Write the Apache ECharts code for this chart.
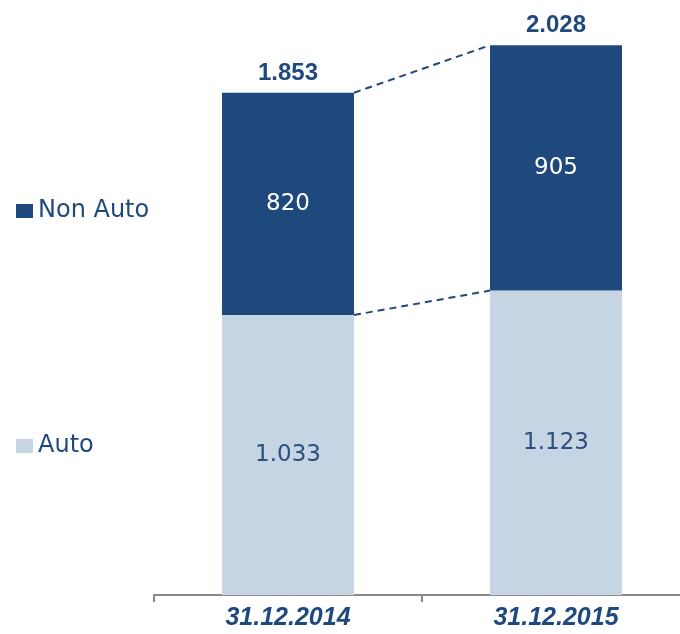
<!DOCTYPE html>
<html>
<head>
<meta charset="utf-8">
<style>
  html, body { margin: 0; padding: 0; background: #fff; }
  #main { width: 680px; height: 634px; }
</style>
<script src="https://cdn.jsdelivr.net/npm/echarts@6/dist/echarts.min.js"></script>
</head>
<body>
<div id="main"></div>
<script>
var categories = ['31.12.2014', '31.12.2015'];
var autoValues = [1033, 1123];
var nonAutoValues = [820, 905];
var totals = [1853, 2028];

var darkBlue = '#1f497d';
var lightBlue = '#c6d5e4';
var barW = 132;

function fmt(v) {
  // 1.033 style thousands separator
  return String(v).replace(/\B(?=(\d{3})+(?!\d))/g, '.');
}

// connecting dashed lines between the bars
var steps = [];
for (var i = 0; i < categories.length - 1; i++) {
  steps.push([i, autoValues[i], autoValues[i + 1], totals[i], totals[i + 1]]);
}

var chart = echarts.init(document.getElementById('main'));

chart.setOption({
  animation: false,
  grid: { left: 154, right: -10, top: 0, bottom: 39, outerBoundsMode: 'none' },
  legend: [
    {
      data: ['Non Auto'], left: 11, top: 194, itemWidth: 17, itemHeight: 14,
      icon: 'rect', selectedMode: false,
      textStyle: { fontFamily: 'DejaVu Sans', fontSize: 24, color: darkBlue }
    },
    {
      data: ['Auto'], left: 11, top: 429, itemWidth: 17, itemHeight: 14,
      icon: 'rect', selectedMode: false,
      textStyle: { fontFamily: 'DejaVu Sans', fontSize: 24, color: darkBlue }
    }
  ],
  xAxis: {
    type: 'category',
    data: categories,
    axisLine: { lineStyle: { color: '#8a8a8a', width: 2 } },
    axisTick: { show: true, length: 7, lineStyle: { color: '#8a8a8a', width: 2 } },
    axisLabel: {
      margin: 11,
      fontFamily: 'Liberation Sans',
      fontSize: 25,
      fontWeight: 'bold',
      fontStyle: 'italic',
      color: darkBlue
    }
  },
  yAxis: { type: 'value', show: false, min: 0, max: 2195 },
  series: [
    {
      name: 'Auto', type: 'bar', stack: 'tot', barWidth: barW,
      data: autoValues,
      itemStyle: { color: lightBlue },
      label: {
        show: true, position: 'inside', fontFamily: 'DejaVu Sans', fontSize: 23,
        color: '#2c4f7c', formatter: function (p) { return fmt(p.value); }
      }
    },
    {
      name: 'Non Auto', type: 'bar', stack: 'tot', barWidth: barW,
      data: nonAutoValues,
      itemStyle: { color: darkBlue },
      label: {
        show: true, position: 'inside', fontFamily: 'DejaVu Sans', fontSize: 23,
        color: '#fff', formatter: function (p) { return fmt(p.value); }
      }
    },
    {
      name: 'Total', type: 'scatter', data: totals, symbolSize: 1,
      itemStyle: { color: 'rgba(0,0,0,0)', opacity: 1 },
      label: {
        show: true, position: 'top', distance: 7, opacity: 1,
        fontFamily: 'Liberation Sans', fontSize: 24, fontWeight: 'bold',
        color: darkBlue, formatter: function (p) { return fmt(p.value); }
      }
    },
    {
      name: 'steps', type: 'custom', data: steps,
      encode: { x: 0, y: [1, 2, 3, 4] },
      silent: true,
      renderItem: function (params, api) {
        var idx = api.value(0);
        var style = { stroke: darkBlue, lineWidth: 2, lineDash: [7, 5] };
        var lines = [];
        [[1, 2], [3, 4]].forEach(function (pair) {
          var a = api.coord([idx, api.value(pair[0])]);
          var b = api.coord([idx + 1, api.value(pair[1])]);
          lines.push({
            type: 'line',
            shape: { x1: a[0] + barW / 2, y1: a[1], x2: b[0] - barW / 2, y2: b[1] },
            style: style
          });
        });
        return { type: 'group', children: lines };
      }
    }
  ]
});

window.addEventListener('resize', function () {
  chart.resize();
});
</script>
</body>
</html>
